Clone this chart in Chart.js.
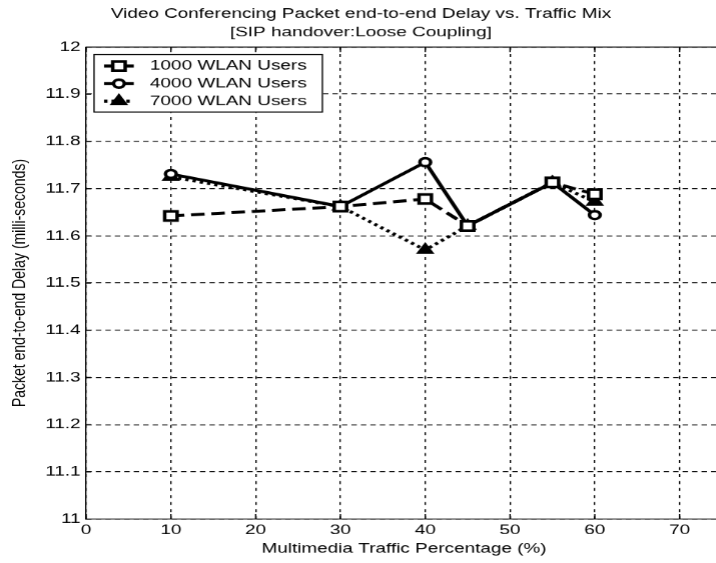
<!DOCTYPE html>
<html>
<head>
<meta charset="utf-8">
<script src="https://cdn.jsdelivr.net/npm/chart.js@4/dist/chart.umd.min.js"></script>
<style>
html,body{margin:0;padding:0;background:#fff;overflow:hidden;width:716px;height:563px;}
#wrap{position:relative;width:716px;height:563px;overflow:hidden;background:#fff;}
#c{display:block;}
</style>
</head>
<body>
<div id="wrap"><canvas id="c" width="596" height="563" style="width:804.6px;height:563px"></canvas></div>
<script>
// ---- data ----
const xValues = [10, 30, 40, 45, 55, 60];
const users1000 = [11.642, 11.662, 11.678, 11.621, 11.713, 11.688];
const users4000 = [11.731, 11.662, 11.756, 11.621, 11.713, 11.644];
const users7000 = [11.725, 11.662, 11.570, 11.621, 11.713, 11.672];
const seriesNames = ['1000 WLAN Users', '4000 WLAN Users', '7000 WLAN Users'];
const xTicks = [0, 10, 20, 30, 40, 50, 60, 70];
const yTicks = [11, 11.1, 11.2, 11.3, 11.4, 11.5, 11.6, 11.7, 11.8, 11.9, 12];
const titleLines = ['Video Conferencing Packet end-to-end Delay vs. Traffic Mix', '[SIP handover:Loose Coupling]'];
const xTitle = 'Multimedia Traffic Percentage (%)';
const yTitle = 'Packet end-to-end Delay (milli-seconds)';

// ---- look ----
const SX = 1.35; // the reference is stretched horizontally
const FONT = '"Liberation Sans", Arial, sans-serif';

function pts(arr){ return xValues.map((x, i) => ({x: x, y: arr[i]})); }

const datasets = [
  {label: seriesNames[0], data: pts(users1000), borderColor: '#000', borderWidth: 3, borderDash: [10, 5],
   pointStyle: 'rect', pointRadius: 6.5, pointBorderWidth: 2.6, pointBorderColor: '#000', pointBackgroundColor: '#fff'},
  {label: seriesNames[1], data: pts(users4000), borderColor: '#000', borderWidth: 3, borderDash: [],
   pointStyle: 'circle', pointRadius: 4, pointBorderWidth: 2.6, pointBorderColor: '#000', pointBackgroundColor: '#fff'},
  {label: seriesNames[2], data: pts(users7000), borderColor: '#000', borderWidth: 3, borderDash: [2.5, 3],
   pointStyle: 'triangle', pointRadius: 6.5, pointBorderWidth: 1.5, pointBorderColor: '#000', pointBackgroundColor: '#000'}
];

function marker(ctx, style, r, bw, x, y, fill){
  ctx.save();
  ctx.setLineDash([]);
  ctx.lineWidth = bw; ctx.strokeStyle = '#000'; ctx.fillStyle = fill;
  ctx.beginPath();
  if (style === 'rect') { const s = r * Math.SQRT1_2; ctx.rect(x - s, y - s, 2 * s, 2 * s); }
  else if (style === 'circle') { ctx.arc(x, y, r, 0, Math.PI * 2); }
  else { for (let k = 0; k < 3; k++) { const a = k * 2 * Math.PI / 3; const px = x + Math.sin(a) * r, py = y - Math.cos(a) * r; k ? ctx.lineTo(px, py) : ctx.moveTo(px, py); } ctx.closePath(); }
  ctx.fill(); ctx.stroke();
  ctx.restore();
}

const framePlugin = {
  id: 'frame',
  beforeDatasetsDraw(chart){
    const {ctx, chartArea: a, scales: {x, y}} = chart;
    ctx.save();
    ctx.setLineDash([]);
    ctx.strokeStyle = '#000'; ctx.lineWidth = 1;
    ctx.beginPath();
    ctx.moveTo(a.left, a.top); ctx.lineTo(a.right, a.top); ctx.lineTo(a.right, a.bottom);
    xTicks.forEach(v => { const px = x.getPixelForValue(v);
      ctx.moveTo(px, a.bottom); ctx.lineTo(px, a.bottom - 5);
      ctx.moveTo(px, a.top); ctx.lineTo(px, a.top + 5); });
    yTicks.forEach(v => { const py = y.getPixelForValue(v);
      ctx.moveTo(a.left, py); ctx.lineTo(a.left + 5 / SX, py); });
    ctx.stroke();
    ctx.restore();
  }
};

const legendPlugin = {
  id: 'boxLegend',
  afterDraw(chart){
    const ctx = chart.ctx;
    const L = 69.6, R = 238.5, T = 54.5, B = 112;
    const rows = [66, 83.6, 101.2];
    ctx.save();
    ctx.fillStyle = '#fff'; ctx.fillRect(L, T, R - L, B - T);
    ctx.strokeStyle = '#000'; ctx.lineWidth = 1; ctx.setLineDash([]);
    ctx.strokeRect(L, T, R - L, B - T);
    chart.data.datasets.forEach((ds, i) => {
      const yy = rows[i];
      ctx.save();
      ctx.setLineDash(ds.borderDash || []);
      ctx.lineWidth = ds.borderWidth; ctx.strokeStyle = ds.borderColor;
      ctx.beginPath(); ctx.moveTo(77, yy); ctx.lineTo(99, yy); ctx.stroke();
      ctx.restore();
      marker(ctx, ds.pointStyle, ds.pointRadius, ds.pointBorderWidth, 88, yy, ds.pointBackgroundColor);
      ctx.fillStyle = '#000'; ctx.font = '14px ' + FONT; ctx.textBaseline = 'middle'; ctx.textAlign = 'left';
      ctx.fillText(ds.label, 111, yy);
    });
    ctx.restore();
  }
};

new Chart(document.getElementById('c'), {
  type: 'line',
  data: {datasets: datasets},
  plugins: [framePlugin, legendPlugin],
  options: {
    responsive: false,
    animation: false,
    devicePixelRatio: SX,
    layout: {padding: {left: 0, right: 61.9, top: 0, bottom: 0}},
    elements: {line: {tension: 0}},
    plugins: {
      legend: {display: false},
      tooltip: {enabled: false},
      title: {display: true, text: titleLines, color: '#000',
        font: {family: FONT, size: 14, weight: 'normal', lineHeight: 1.3},
        padding: {top: 5, bottom: 5.6}}
    },
    scales: {
      x: {
        type: 'linear', min: 0, max: 75,
        afterBuildTicks: s => { s.ticks = xTicks.map(v => ({value: v})); },
        afterFit: s => { s.height = 44; },
        ticks: {color: '#000', font: {family: FONT, size: 14}, padding: 3, autoSkip: false, maxRotation: 0, includeBounds: false,
                callback: v => String(v)},
        grid: {color: '#000', lineWidth: 1, drawTicks: false},
        border: {display: true, color: '#000', width: 1, dash: [3, 4]},
        title: {display: true, text: xTitle, color: '#000', font: {family: FONT, size: 14}, padding: {top: 0, bottom: 5.6}}
      },
      y: {
        type: 'linear', min: 11, max: 12,
        afterBuildTicks: s => { s.ticks = yTicks.map(v => ({value: v})); },
        afterFit: s => { s.width = 63.7; },
        ticks: {color: '#000', font: {family: FONT, size: 14}, padding: 4, autoSkip: false,
                callback: v => String(Number(v.toFixed(1)))},
        grid: {color: '#000', lineWidth: 1, drawTicks: false},
        border: {display: true, color: '#000', width: 1, dash: [4, 3]},
        title: {display: true, text: yTitle, color: '#000', font: {family: FONT, size: 14}, padding: {top: 6.4, bottom: 0}}
      }
    }
  }
});
</script>
</body>
</html>
